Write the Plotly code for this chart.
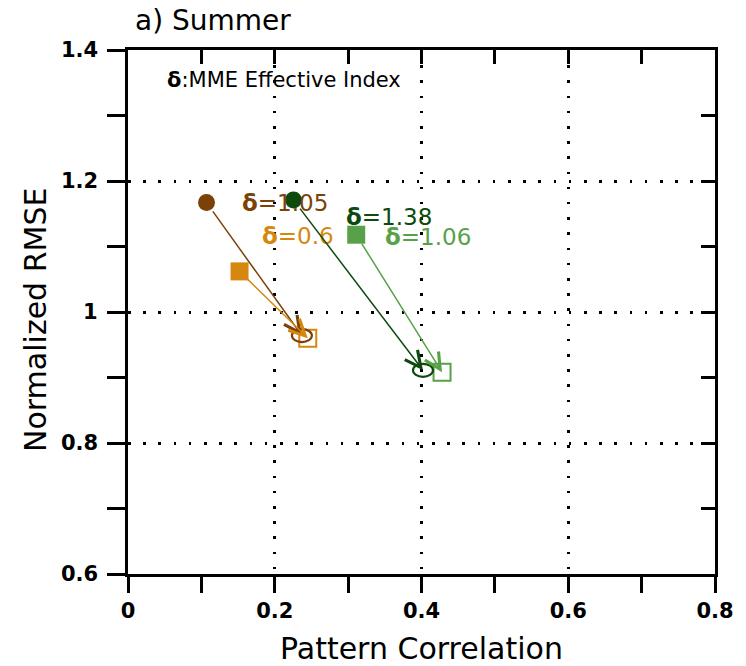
import plotly.graph_objects as go

# Pattern correlation / normalized RMSE before (filled) and after (open) MME
series_names = ["brown", "orange", "dark_green", "light_green"]
colors = ["#7B4208", "#D5870F", "#0E4A0E", "#58A148"]
start_shapes = ["circle", "square", "circle", "square"]

corr_before = [0.107, 0.152, 0.2255, 0.311]
rmse_before = [1.167, 1.062, 1.171, 1.118]
corr_after = [0.237, 0.245, 0.402, 0.428]
rmse_after = [0.964, 0.960, 0.911, 0.908]
delta_index = [1.05, 0.6, 1.38, 1.06]

x_ticks = [0, 0.2, 0.4, 0.6, 0.8]
y_ticks = [0.6, 0.8, 1.0, 1.2, 1.4]
y_tick_labels = ["0.6", "0.8", "1", "1.2", "1.4"]

# pixel offsets of the δ labels from the filled markers
label_dx = [33, 20, 51, 27]
label_dy = [0, 35, -17, -2]

FONT = "DejaVu Sans"
AXW = 2.5

fig = go.Figure()

# filled starting markers
for i in range(len(series_names)):
    fig.add_trace(go.Scatter(
        x=[corr_before[i]], y=[rmse_before[i]], mode="markers",
        marker=dict(symbol=start_shapes[i], size=17 if start_shapes[i] == "circle" else 18,
                    color=colors[i], line=dict(width=0)),
        showlegend=False, hoverinfo="skip", cliponaxis=False,
    ))

# open squares (placed on the mirrored axes so they are drawn)
for i in range(len(series_names)):
    if start_shapes[i] == "square":
        fig.add_trace(go.Scatter(
            x=[corr_after[i]], y=[rmse_after[i]], mode="markers",
            marker=dict(symbol="square-open", size=17, color=colors[i],
                        line=dict(width=2, color=colors[i])),
            xaxis="x2", yaxis="y2",
            showlegend=False, hoverinfo="skip",
        ))

shapes = []
annotations = []
for i in range(len(series_names)):
    # open ellipses for circle series
    if start_shapes[i] == "circle":
        shapes.append(dict(
            type="circle", xref="x", yref="y",
            xsizemode="pixel", ysizemode="pixel",
            xanchor=corr_after[i], yanchor=rmse_after[i],
            x0=-10, x1=10, y0=-6.5, y1=6.5,
            line=dict(color=colors[i], width=2.2), fillcolor="rgba(0,0,0,0)",
        ))
    # arrow from before to after
    annotations.append(dict(
        x=corr_after[i], y=rmse_after[i], xref="x", yref="y",
        ax=corr_before[i], ay=rmse_before[i], axref="x", ayref="y",
        text="", showarrow=True, arrowhead=5, arrowsize=2.1, arrowwidth=1.5,
        arrowcolor=colors[i], standoff=0, startstandoff=9,
    ))
    # δ label
    annotations.append(dict(
        x=corr_before[i], y=rmse_before[i], xref="x", yref="y",
        text=f"<b>δ</b>={delta_index[i]}", showarrow=False,
        xanchor="left", yanchor="middle",
        xshift=label_dx[i], yshift=label_dy[i],
        font=dict(family=FONT, size=23, color=colors[i]),
    ))

# y tick labels, set a little further from the ticks
for val, lab in zip(y_ticks, y_tick_labels):
    annotations.append(dict(
        x=0, y=val, xref="paper", yref="y", text=lab, showarrow=False,
        xanchor="right", yanchor="middle", xshift=-28,
        font=dict(family=FONT, size=21, color="black", weight="bold"),
    ))

annotations += [
    dict(text="a) Summer", xref="paper", yref="paper", x=0, y=1,
         xanchor="left", yanchor="middle", xshift=5, yshift=30,
         showarrow=False, font=dict(family=FONT, size=28, color="black")),
    dict(text="<b>δ</b>:MME Effective Index", xref="paper", yref="paper", x=0, y=1,
         xanchor="left", yanchor="middle", xshift=37, yshift=-30,
         showarrow=False, font=dict(family=FONT, size=21, color="black")),
    dict(text="Pattern Correlation", xref="paper", yref="paper", x=0.5, y=0,
         xanchor="center", yanchor="middle", yshift=-74,
         showarrow=False, font=dict(family=FONT, size=30, color="black")),
    dict(text="Normalized RMSE", xref="paper", yref="paper", x=0, y=0.5,
         xanchor="center", yanchor="middle", xshift=-93, yshift=-8, textangle=-90,
         showarrow=False, font=dict(family=FONT, size=30, color="black")),
]

grid_common = dict(showgrid=True, gridcolor="black", gridwidth=AXW,
                   griddash="2.5px,12.7px", zeroline=False)

fig.update_layout(
    width=746, height=666,
    margin=dict(l=128, r=21, t=50, b=92),
    paper_bgcolor="white", plot_bgcolor="white",
    shapes=shapes, annotations=annotations,
    xaxis=dict(range=[0, 0.8], tickvals=x_ticks, ticks="outside", ticklen=16,
               tickwidth=AXW, tickcolor="black",
               minor=dict(dtick=0.1, tick0=0, ticks="outside", ticklen=16,
                          tickwidth=AXW, tickcolor="black", showgrid=False),
               showline=True, linewidth=AXW, linecolor="black",
               tickfont=dict(family=FONT, size=21, color="black", weight="bold"),
               **grid_common),
    yaxis=dict(range=[0.6, 1.4], tickvals=y_ticks, ticks="outside", ticklen=18,
               tickwidth=AXW, tickcolor="black", showticklabels=False,
               minor=dict(dtick=0.1, tick0=0, ticks="outside", ticklen=18,
                          tickwidth=AXW, tickcolor="black", showgrid=False),
               showline=True, linewidth=AXW, linecolor="black",
               **grid_common),
    xaxis2=dict(range=[0, 0.8], overlaying="x", side="top", anchor="y",
                dtick=0.1, tick0=0, ticks="inside", ticklen=14, tickwidth=AXW,
                tickcolor="black", showticklabels=False, showgrid=False,
                zeroline=False, showline=True, linewidth=AXW, linecolor="black"),
    yaxis2=dict(range=[0.6, 1.4], overlaying="y", side="right", anchor="x",
                dtick=0.1, tick0=0, ticks="inside", ticklen=14, tickwidth=AXW,
                tickcolor="black", showticklabels=False, showgrid=False,
                zeroline=False, showline=True, linewidth=AXW, linecolor="black"),
)

fig.write_html("out.html")
